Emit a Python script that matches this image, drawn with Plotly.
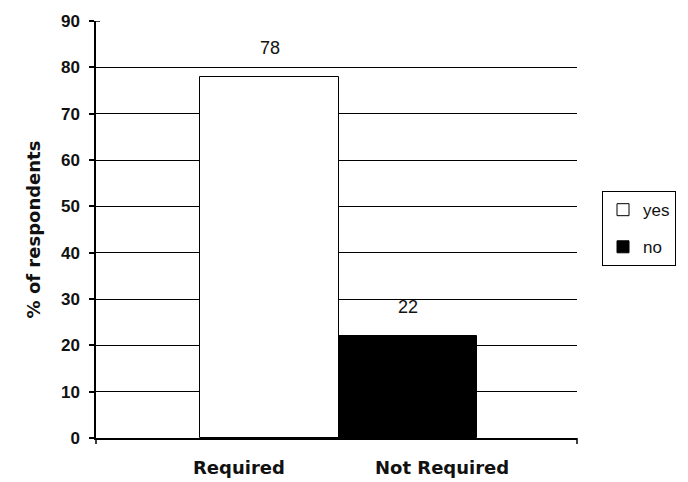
import plotly.graph_objects as go

# Survey results: share of respondents per answer
categories = ["Required", "Not Required"]
series = ["yes", "no"]
values = [78, 22]
y_ticks = [0, 10, 20, 30, 40, 50, 60, 70, 80, 90]

fill = {"yes": "white", "no": "black"}
SANS = "Liberation Sans, Arial, sans-serif"
WIDE = "DejaVu Sans, Verdana, sans-serif"
INK = "#111"

fig = go.Figure()
for i, (name, val) in enumerate(zip(series, values)):
    fig.add_trace(go.Bar(
        x=[i], y=[val], name=name, legendgroup=name,
        width=1.0,
        marker=dict(color=fill[name], line=dict(color="black", width=1)),
    ))
    # value label floating above the bar
    fig.add_annotation(x=i, y=val, xref="x", yref="y", yanchor="bottom",
                       yshift=17, text=str(val), showarrow=False,
                       font=dict(family=SANS, size=18, color=INK))

# category labels under the axis
label_pos = [-0.22, 1.25]
for cat, xp in zip(categories, label_pos):
    fig.add_annotation(x=xp, xref="x", y=-0.04, yref="paper", yanchor="top",
                       text="<b>%s</b>" % cat, showarrow=False,
                       font=dict(family=WIDE, size=18, color=INK))

# end ticks on the category axis
for xd in (0, 1):
    fig.add_shape(type="line", xref="x domain", yref="y domain",
                  x0=xd, x1=xd, y0=0, y1=-6 / 419,
                  line=dict(color="black", width=1.5))
# top cross tick on the value axis
fig.add_shape(type="line", xref="x domain", yref="y",
              x0=0, x1=4 / 482, y0=90, y1=90,
              line=dict(color="black", width=1.5))

fig.update_layout(
    width=688, height=482,
    margin=dict(l=96, r=110, t=19, b=44),
    paper_bgcolor="white", plot_bgcolor="white",
    barmode="overlay", bargap=0,
    showlegend=True,
    legend=dict(x=1.052, y=0.592, xanchor="left", yanchor="top",
                bordercolor="black", borderwidth=1, bgcolor="white",
                font=dict(family=SANS, size=17, color=INK),
                traceorder="grouped", tracegroupgap=12,
                itemwidth=30),
    font=dict(family=SANS, color=INK),
)
fig.update_xaxes(
    type="linear", range=[-1.256, 2.224],
    showgrid=False, zeroline=False, showticklabels=False, ticks="",
    showline=True, linecolor="black", linewidth=1.5,
)
fig.update_yaxes(
    range=[0, 90], tickvals=y_ticks,
    ticktext=["<b>%d</b>" % v for v in y_ticks],
    tickfont=dict(family=SANS, size=17, color=INK),
    ticks="outside", ticklen=5, tickcolor="black", tickwidth=1.5,
    ticklabelstandoff=6,
    showgrid=True, gridcolor="black", gridwidth=1,
    showline=True, linecolor="black", linewidth=1.5,
    zeroline=False,
    title=dict(text="<b>% of respondents</b>", standoff=16,
               font=dict(family=WIDE, size=18, color=INK)),
)

fig.write_html("out.html")
